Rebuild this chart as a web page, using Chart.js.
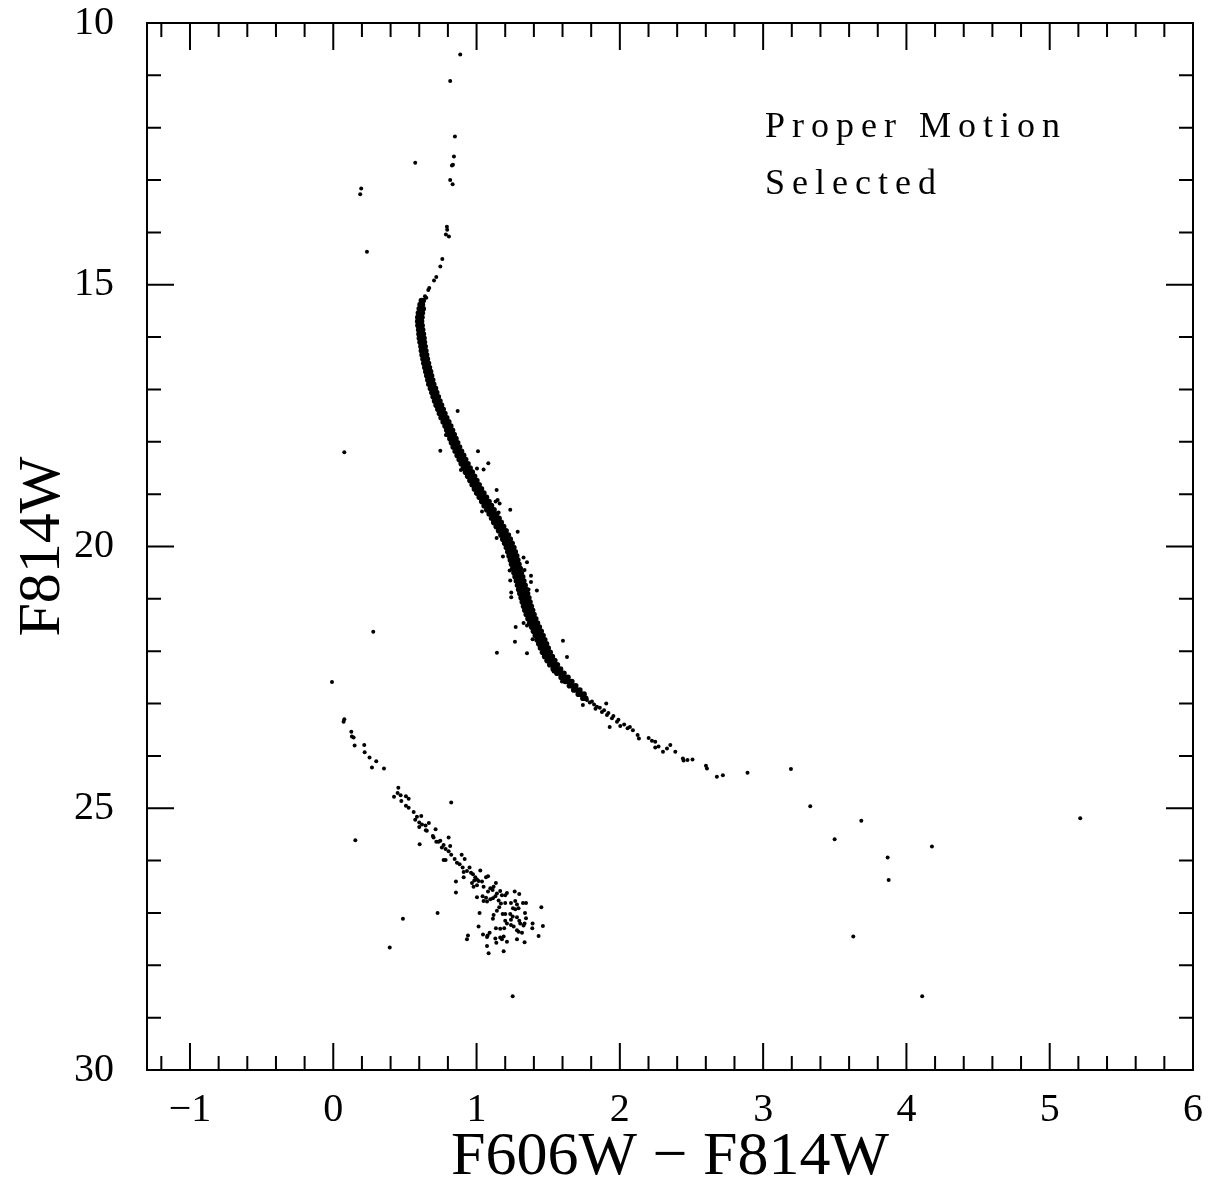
<!DOCTYPE html>
<html>
<head>
<meta charset="utf-8">
<script src="https://cdn.jsdelivr.net/npm/chart.js@4.4.1/dist/chart.umd.min.js"></script>
<style>
  html, body { margin: 0; padding: 0; background: #fff; }
  #wrap { width: 1208px; height: 1189px; }
</style>
</head>
<body>
<div id="wrap"><canvas id="cmd"></canvas></div>
<script>
// tick positions
const xTicks = [-1, 0, 1, 2, 3, 4, 5, 6];
const yTicks = [10, 15, 20, 25, 30];

// [colour, magnitude]
const giantBranch = [
  [0.886, 10.60], [0.816, 11.11], [0.849, 12.17], [0.842, 12.55], [0.835, 12.71], [0.828, 12.72],
  [0.816, 13.00], [0.833, 13.08], [0.793, 13.89], [0.795, 13.95], [0.786, 14.04], [0.807, 14.08],
  [0.761, 14.51], [0.747, 14.65], [0.719, 14.85], [0.703, 14.92], [0.670, 15.06], [0.663, 15.10],
  [0.649, 15.25], [0.640, 15.22], [0.626, 15.35]
];

// main sequence ridge: [magnitude, colours of the stars across the band]
const ridgeRows = [
  [15.30, 0.615, 0.628], [15.38, 0.606, 0.622], [15.46, 0.600, 0.614, 0.628],
  [15.54, 0.594, 0.609, 0.622], [15.62, 0.590, 0.604, 0.619], [15.70, 0.589, 0.602, 0.616],
  [15.78, 0.591, 0.605, 0.620], [15.86, 0.596, 0.610, 0.624], [15.94, 0.598, 0.614, 0.629],
  [16.02, 0.601, 0.617, 0.633], [16.10, 0.606, 0.621, 0.636], [16.18, 0.612, 0.627, 0.641],
  [16.26, 0.615, 0.632, 0.646], [16.34, 0.620, 0.636, 0.651], [16.42, 0.626, 0.642, 0.657],
  [16.50, 0.632, 0.649, 0.664], [16.58, 0.639, 0.656, 0.671], [16.66, 0.646, 0.663, 0.679],
  [16.74, 0.653, 0.670, 0.686], [16.82, 0.660, 0.677, 0.694], [16.90, 0.667, 0.685, 0.701],
  [16.98, 0.678, 0.696, 0.713], [17.06, 0.688, 0.705, 0.722], [17.14, 0.697, 0.715, 0.733],
  [17.22, 0.707, 0.726, 0.744], [17.30, 0.718, 0.737, 0.755], [17.38, 0.730, 0.748, 0.767],
  [17.46, 0.741, 0.760, 0.779], [17.54, 0.753, 0.773, 0.792], [17.62, 0.767, 0.787, 0.806],
  [17.70, 0.780, 0.800, 0.820], [17.78, 0.792, 0.812, 0.832], [17.86, 0.802, 0.823, 0.844],
  [17.94, 0.814, 0.835, 0.856], [18.02, 0.825, 0.846, 0.868], [18.10, 0.837, 0.859, 0.881],
  [18.18, 0.851, 0.873, 0.895], [18.26, 0.865, 0.887, 0.910], [18.34, 0.879, 0.902, 0.924],
  [18.42, 0.893, 0.916, 0.940], [18.50, 0.908, 0.931, 0.955], [18.58, 0.923, 0.947, 0.970],
  [18.66, 0.938, 0.962, 0.986], [18.74, 0.954, 0.978, 1.002], [18.82, 0.969, 0.994, 1.018],
  [18.90, 0.985, 1.010, 1.034], [18.98, 1.001, 1.027, 1.051], [19.06, 1.019, 1.044, 1.069],
  [19.14, 1.036, 1.062, 1.087], [19.22, 1.053, 1.079, 1.104], [19.30, 1.071, 1.097, 1.122],
  [19.38, 1.088, 1.114, 1.140], [19.46, 1.105, 1.131, 1.157], [19.54, 1.120, 1.146, 1.172],
  [19.62, 1.137, 1.163, 1.189], [19.70, 1.154, 1.180, 1.206], [19.78, 1.170, 1.196, 1.222],
  [19.86, 1.183, 1.209, 1.235], [19.94, 1.196, 1.222, 1.248], [20.02, 1.208, 1.234, 1.260],
  [20.10, 1.218, 1.244, 1.270], [20.18, 1.227, 1.253, 1.280], [20.26, 1.236, 1.262, 1.288],
  [20.34, 1.244, 1.270, 1.296], [20.42, 1.253, 1.279, 1.305], [20.50, 1.261, 1.287, 1.313],
  [20.58, 1.269, 1.295, 1.322], [20.66, 1.278, 1.304, 1.330], [20.74, 1.286, 1.312, 1.339],
  [20.82, 1.294, 1.320, 1.347], [20.90, 1.302, 1.329, 1.356], [20.98, 1.311, 1.338, 1.365],
  [21.06, 1.319, 1.346, 1.373], [21.14, 1.328, 1.355, 1.382], [21.22, 1.337, 1.364, 1.391],
  [21.30, 1.347, 1.374, 1.401], [21.38, 1.359, 1.386, 1.413], [21.46, 1.371, 1.398, 1.425],
  [21.54, 1.384, 1.411, 1.438], [21.62, 1.397, 1.424, 1.451], [21.70, 1.410, 1.437, 1.464],
  [21.78, 1.422, 1.449, 1.476], [21.86, 1.434, 1.461, 1.488], [21.94, 1.446, 1.473, 1.500],
  [22.02, 1.460, 1.487, 1.514], [22.10, 1.475, 1.502, 1.529], [22.18, 1.492, 1.519, 1.546],
  [22.26, 1.511, 1.538, 1.564], [22.34, 1.535, 1.560, 1.586], [22.42, 1.561, 1.586, 1.610],
  [22.50, 1.590, 1.614, 1.638], [22.58, 1.619, 1.642, 1.665], [22.66, 1.648, 1.670, 1.692],
  [22.74, 1.678, 1.700, 1.721], [22.82, 1.710, 1.730, 1.750], [22.90, 1.742, 1.762]
];

const lowerMS = [
  [1.742, 23.03], [1.770, 22.93], [1.790, 22.98], [1.805, 22.96], [1.820, 23.02], [1.840, 23.06],
  [1.830, 23.10], [1.860, 23.08], [1.875, 23.16], [1.890, 23.13], [1.905, 23.00], [1.910, 23.22],
  [1.920, 23.18], [1.945, 23.28], [1.955, 23.24], [1.980, 23.35], [1.990, 23.31], [1.929, 23.45],
  [2.003, 23.43], [2.030, 23.40], [2.054, 23.47], [2.070, 23.45], [2.091, 23.51], [2.124, 23.60],
  [2.133, 23.67], [2.201, 23.66], [2.224, 23.71], [2.247, 23.73], [2.247, 23.84], [2.270, 23.82],
  [2.301, 23.92], [2.329, 23.86], [2.352, 23.79], [2.387, 23.92], [2.440, 24.05], [2.445, 24.09],
  [2.472, 24.08], [2.507, 24.07], [2.601, 24.19], [2.608, 24.24], [2.677, 24.40], [2.719, 24.37],
  [2.891, 24.32], [3.194, 24.25]
];

const msScatter = [
  [0.868, 17.41], [0.747, 18.17], [1.010, 18.18], [1.082, 18.41], [1.049, 18.53], [1.003, 18.51],
  [0.891, 18.54], [1.140, 18.92], [1.147, 19.11], [1.133, 19.14], [1.161, 19.18], [1.038, 19.33],
  [1.235, 19.30], [1.154, 19.35], [1.287, 19.72], [1.140, 19.84], [0.786, 17.87], [1.184, 20.19],
  [1.328, 20.21], [1.352, 20.30], [1.335, 20.45], [1.231, 20.46], [1.380, 20.56], [1.380, 20.68],
  [1.235, 20.65], [1.363, 20.82], [1.421, 20.84], [1.242, 20.88], [1.242, 20.97], [1.328, 21.46],
  [1.352, 21.51], [1.273, 21.54], [1.391, 21.77], [1.268, 21.82], [1.603, 21.80], [1.142, 22.03],
  [1.352, 22.04], [1.631, 22.11], [1.538, 22.39], [1.596, 22.58]
];

const whiteDwarfs = [
  [-0.009, 22.59], [0.077, 23.30], [0.072, 23.35], [0.126, 23.54], [0.130, 23.63], [0.142, 23.65],
  [0.149, 23.80], [0.216, 23.79], [0.219, 23.93], [0.253, 24.03], [0.300, 24.10], [0.270, 24.22],
  [0.354, 24.24], [0.454, 24.61], [0.449, 24.71], [0.470, 24.75], [0.424, 24.78], [0.507, 24.77],
  [0.526, 24.82], [0.475, 24.86], [0.507, 24.95], [0.526, 24.99], [0.561, 25.07], [0.584, 25.16],
  [0.614, 25.15], [0.572, 25.22], [0.600, 25.27], [0.619, 25.31], [0.644, 25.33], [0.667, 25.28],
  [0.600, 25.36], [0.646, 25.42], [0.653, 25.43], [0.714, 25.40], [0.603, 25.69], [0.695, 25.53],
  [0.700, 25.56], [0.719, 25.64], [0.735, 25.64], [0.747, 25.62], [0.770, 25.70], [0.758, 25.75],
  [0.784, 25.78], [0.805, 25.82], [0.805, 25.56], [0.816, 25.72], [0.770, 25.99], [0.784, 25.99],
  [0.823, 25.89], [0.847, 25.97], [0.863, 26.04], [0.882, 26.07], [0.896, 25.89], [0.917, 25.97],
  [0.903, 26.13], [0.910, 26.22], [0.933, 26.20], [0.951, 26.13], [0.961, 26.23], [0.910, 26.32],
  [0.975, 26.26], [0.991, 26.32], [0.984, 26.38], [1.003, 26.36], [1.014, 26.39], [1.026, 26.19],
  [0.968, 26.43], [0.979, 26.50], [1.003, 26.47], [1.038, 26.40], [1.049, 26.50], [1.066, 26.32],
  [1.080, 26.30], [0.856, 26.40], [0.856, 26.61], [1.096, 26.53], [1.112, 26.56], [1.080, 26.59],
  [1.119, 26.50], [1.135, 26.43], [1.042, 26.68], [1.066, 26.71], [1.049, 26.77], [1.073, 26.78],
  [1.096, 26.74], [1.114, 26.72], [1.131, 26.68], [1.142, 26.63], [1.165, 26.58], [1.177, 26.66],
  [1.200, 26.66], [1.212, 26.62], [1.003, 26.70], [1.266, 26.59], [1.298, 26.64], [1.240, 26.81],
  [1.270, 26.77], [1.282, 26.84], [1.324, 26.81], [1.345, 26.81], [1.154, 26.76], [1.170, 26.82],
  [1.200, 26.81], [1.452, 26.89], [1.158, 26.89], [1.182, 27.02], [1.200, 27.02], [1.235, 27.02],
  [1.254, 26.91], [1.270, 26.93], [1.293, 26.91], [1.119, 27.04], [1.114, 27.11], [1.142, 26.96],
  [1.021, 27.00], [1.252, 27.07], [1.240, 27.13], [1.282, 27.08], [1.298, 27.15], [1.338, 27.00],
  [1.345, 27.10], [1.200, 27.15], [1.212, 27.20], [1.240, 27.23], [1.259, 27.26], [1.305, 27.20],
  [1.328, 27.24], [1.335, 27.20], [1.391, 27.20], [1.389, 27.29], [1.463, 27.25], [1.014, 27.26],
  [1.077, 27.43], [1.073, 27.46], [1.091, 27.38], [1.135, 27.29], [1.165, 27.30], [1.193, 27.29],
  [1.282, 27.33], [1.293, 27.36], [1.317, 27.38], [1.433, 27.44], [0.940, 27.43], [0.933, 27.50],
  [1.045, 27.41], [1.131, 27.49], [1.165, 27.47], [1.189, 27.45], [1.138, 27.57], [1.177, 27.50],
  [1.212, 27.55], [1.282, 27.50], [1.335, 27.56], [1.073, 27.63], [1.084, 27.77], [1.189, 27.73]
];

const fieldStars = [
  [0.572, 12.67], [0.195, 13.16], [0.188, 13.27], [0.235, 14.37], [0.077, 18.20], [0.279, 21.63],
  [0.823, 24.89], [0.154, 25.61], [0.728, 27.00], [0.486, 27.11], [0.394, 27.66], [1.252, 28.59],
  [3.329, 24.96], [3.685, 25.24], [3.499, 25.59], [4.178, 25.73], [3.869, 25.94], [3.876, 26.37],
  [3.629, 27.45], [4.110, 28.59], [5.213, 25.19]
];

const ridgeStars = [];
ridgeRows.forEach((row) => {
  row.slice(1).forEach((c) => ridgeStars.push([c, row[0]]));
});

const otherStars = [].concat(giantBranch, lowerMS, msScatter, whiteDwarfs, fieldStars);

const serif = "'Liberation Serif', 'DejaVu Serif', serif";

// inward ticks on all four sides plus the frame
const framePlugin = {
  id: "frame",
  afterDraw(chart) {
    const { ctx, chartArea: a, scales } = chart;
    ctx.save();
    ctx.strokeStyle = "#000";
    ctx.lineWidth = 2;
    ctx.strokeRect(a.left, a.top, a.right - a.left, a.bottom - a.top);
    ctx.beginPath();
    for (let i = -6; i <= 30; i++) {
      const v = i / 5;
      const px = scales.x.getPixelForValue(v);
      if (px < a.left || px > a.right) continue;
      const len = i % 5 === 0 ? 27 : 14;
      ctx.moveTo(px, a.bottom); ctx.lineTo(px, a.bottom - len);
      ctx.moveTo(px, a.top); ctx.lineTo(px, a.top + len);
    }
    for (let m = 10; m <= 30; m++) {
      const py = scales.y.getPixelForValue(m);
      const len = m % 5 === 0 ? 27 : 14;
      ctx.moveTo(a.left, py); ctx.lineTo(a.left + len, py);
      ctx.moveTo(a.right, py); ctx.lineTo(a.right - len, py);
    }
    ctx.stroke();

    ctx.fillStyle = "#000";
    ctx.font = "36px " + serif;
    ctx.letterSpacing = "7px";
    ctx.textAlign = "left";
    ctx.textBaseline = "alphabetic";
    ctx.fillText("Proper Motion", 765, 137);
    ctx.fillText("Selected", 765, 194);
    ctx.restore();
  }
};

const ctx = document.getElementById("cmd").getContext("2d");
new Chart(ctx, {
  type: "scatter",
  data: {
    datasets: [{
      data: ridgeStars.map((s) => ({ x: s[0], y: s[1] })),
      backgroundColor: "#000",
      borderWidth: 0,
      pointRadius: 2.8
    }, {
      data: otherStars.map((s) => ({ x: s[0], y: s[1] })),
      backgroundColor: "#000",
      borderWidth: 0,
      pointRadius: 2
    }]
  },
  options: {
    responsive: true,
    maintainAspectRatio: false,
    animation: false,
    layout: { padding: { top: 23, right: 15, left: 0, bottom: 0 } },
    plugins: { legend: { display: false }, tooltip: { enabled: false } },
    scales: {
      x: {
        type: "linear",
        min: -1.3,
        max: 6,
        afterBuildTicks: (scale) => { scale.ticks = xTicks.map((v) => ({ value: v })); },
        afterFit: (scale) => {
          scale.height = 119;
          scale.paddingLeft = 0;
          scale.paddingRight = 0;
        },
        grid: { display: false },
        border: { display: false },
        ticks: {
          color: "#000",
          padding: 9,
          font: { family: serif, size: 40, lineHeight: 1.15 },
          callback: (v) => (v < 0 ? "\u2212" + Math.abs(v) : String(v))
        },
        title: {
          display: true,
          text: "F606W \u2212 F814W",
          color: "#000",
          padding: 0,
          font: { family: serif, size: 62, lineHeight: 1 }
        }
      },
      y: {
        type: "linear",
        reverse: true,
        min: 10,
        max: 30,
        afterBuildTicks: (scale) => { scale.ticks = yTicks.map((v) => ({ value: v })); },
        afterFit: (scale) => {
          scale.width = 147;
          scale.paddingTop = 0;
          scale.paddingBottom = 0;
        },
        grid: { display: false },
        border: { display: false },
        ticks: {
          color: "#000",
          padding: 25,
          font: { family: serif, size: 40, lineHeight: 1.15 }
        },
        title: {
          display: true,
          text: "F814W",
          color: "#000",
          padding: { top: 13, bottom: 0 },
          font: { family: serif, size: 60, lineHeight: 1 }
        }
      }
    }
  },
  plugins: [framePlugin]
});
</script>
</body>
</html>
